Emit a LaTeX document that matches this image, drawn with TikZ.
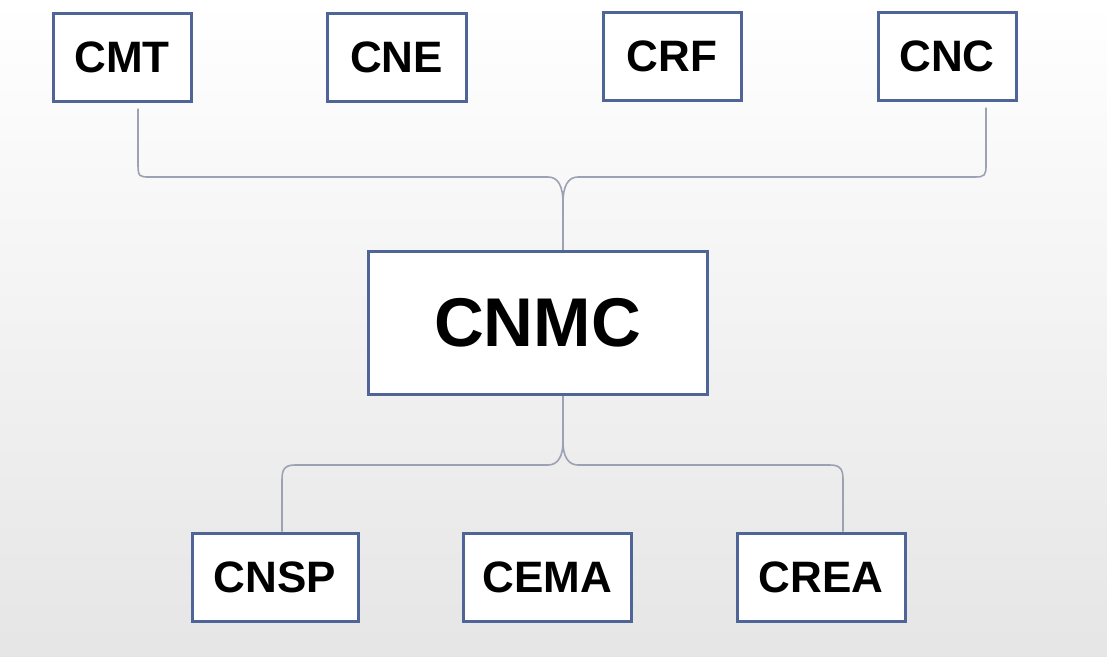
\documentclass[tikz,border=0pt]{standalone}
\usepackage{fontspec}
\setmainfont{Liberation Sans}
\begin{document}
\begin{tikzpicture}[x=1pt,y=-1pt,
  box/.style={draw=boxblue,line width=3pt,fill=white,inner sep=0pt,
    minimum height=88pt,font=\fontsize{44}{48}\selectfont\bfseries},
  bigbox/.style={box,minimum width=339pt,minimum height=143pt,
    font=\fontsize{69}{72}\selectfont\bfseries},
  conn/.style={draw=conngray,line width=1.6pt}]
\definecolor{boxblue}{HTML}{4F6597}
\definecolor{conngray}{HTML}{9CA2B4}
\shade[top color=white,bottom color=black!10] (0,0) rectangle (1107,656);
\useasboundingbox (0,0) rectangle (1107,656);
% top row
\node[box,minimum width=138pt] (cmt) at (122,57) {CMT};
\node[box,minimum width=139pt] (cne) at (396.5,57) {CNE};
\node[box,minimum width=138pt] (crf) at (672,56) {CRF};
\node[box,minimum width=138pt] (cnc) at (947,56) {CNC};
% centre
\node[bigbox] (cnmc) at (537.5,322.5) {CNMC};
% bottom row
\node[box,minimum width=166pt] (cnsp) at (275,577) {CNSP};
\node[box,minimum width=168pt] (cema) at (547,577) {CEMA};
\node[box,minimum width=168pt] (crea) at (821,577) {CREA};
% coordinates of the brace tips
\coordinate (ttip) at (563,203);
\coordinate (btip) at (563,442);
% top connectors
\draw[conn] ([xshift=16pt,yshift=-6pt]cmt.south) -- (138,165)
  .. controls (138,177) and (140,177) .. (150,177) -- (548,177)
  .. controls (558,177) and (563,186) .. (ttip);
\draw[conn] ([xshift=39pt,yshift=-6pt]cnc.south) -- (986,165)
  .. controls (986,175) and (985,177) .. (975,177) -- (578,177)
  .. controls (568,177) and (563,186) .. (ttip);
\draw[conn] (ttip) -- ([xshift=25.5pt]cnmc.north);
% bottom connectors
\draw[conn] ([xshift=25.5pt]cnmc.south) -- (btip);
\draw[conn] (btip) .. controls (563,456) and (558,465) .. (548,465) -- (295,465)
  .. controls (284,465) and (282,470) .. (282,480) -- ([xshift=7pt]cnsp.north);
\draw[conn] (btip) .. controls (563,456) and (568,465) .. (578,465) -- (830,465)
  .. controls (841,465) and (843,470) .. (843,480) -- ([xshift=22pt]crea.north);
\end{tikzpicture}
\end{document}
